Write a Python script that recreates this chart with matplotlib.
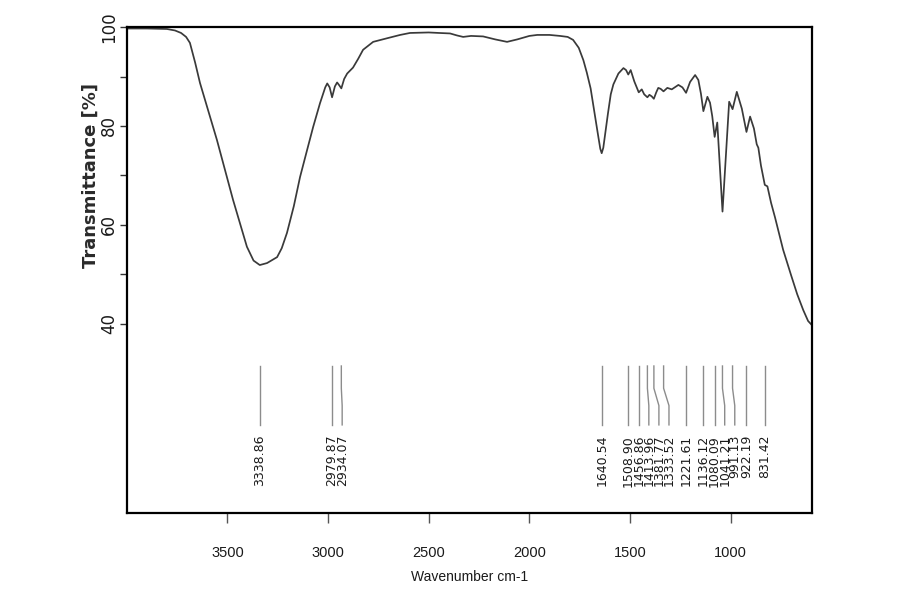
import matplotlib
matplotlib.use("Agg")
import matplotlib.pyplot as plt
from matplotlib.transforms import blended_transform_factory

# ---------------- data ----------------
wavenumber = [4000, 3900, 3800, 3760, 3730, 3705, 3686, 3660, 3636, 3552, 3472, 3403,
              3370, 3339, 3303, 3253, 3230, 3204, 3170, 3139, 3105, 3074, 3040, 3014,
              3004, 2992, 2980, 2966, 2955, 2944, 2934, 2920, 2905, 2876, 2850, 2826,
              2776, 2700, 2642, 2593, 2500, 2450, 2394, 2360, 2329, 2290, 2230, 2170,
              2111, 2060, 2000, 1961, 1900, 1848, 1810, 1783, 1755, 1732, 1715, 1696,
              1678, 1660, 1648, 1641, 1633, 1620, 1610, 1596, 1583, 1558, 1533, 1520,
              1509, 1497, 1479, 1457, 1442, 1430, 1414, 1404, 1393, 1382, 1370, 1360,
              1348, 1334, 1315, 1293, 1260, 1240, 1222, 1202, 1177, 1161, 1148, 1136,
              1116, 1103, 1092, 1080, 1067, 1041, 1008, 991, 970, 945, 922, 904,
              885, 871, 863, 850, 831, 818, 800, 780, 740, 700, 670, 640, 616, 598]
transmittance = [99.7, 99.7, 99.6, 99.3, 98.8, 98.0, 96.8, 92.8, 88.7, 77.2, 65.1, 55.6,
                 52.8, 51.9, 52.3, 53.5, 55.3, 58.4, 63.8, 69.7, 75.0, 79.8, 84.6, 87.8,
                 88.6, 87.8, 85.8, 88.0, 88.8, 88.2, 87.6, 89.5, 90.6, 91.8, 93.6, 95.4,
                 97.0, 97.8, 98.4, 98.8, 98.9, 98.8, 98.7, 98.3, 98.0, 98.2, 98.1, 97.5,
                 97.0, 97.5, 98.2, 98.4, 98.4, 98.2, 98.0, 97.4, 95.8, 93.3, 90.8, 87.6,
                 83.0, 78.4, 75.4, 74.5, 75.6, 79.5, 82.5, 86.4, 88.4, 90.6, 91.7, 91.3,
                 90.4, 91.3, 89.0, 86.8, 87.4, 86.4, 85.8, 86.3, 86.0, 85.5, 86.8, 87.7,
                 87.5, 87.0, 87.7, 87.4, 88.3, 87.8, 86.7, 88.9, 90.3, 89.3, 86.5, 83.0,
                 85.9, 84.7, 82.0, 77.8, 80.7, 62.7, 84.9, 83.4, 86.9, 83.5, 78.8, 81.9,
                 79.5, 76.3, 75.6, 72.0, 68.1, 67.8, 64.5, 61.5, 55.0, 49.8, 46.0, 42.8, 40.6, 39.8]

peaks = [3338.86, 2979.87, 2934.07, 1640.54, 1508.90, 1456.86, 1413.96, 1381.77,
         1333.52, 1221.61, 1136.12, 1080.09, 1041.21, 991.13, 922.19, 831.42]
peak_labels = ["%.2f" % p for p in peaks]

xticks = [3500, 3000, 2500, 2000, 1500, 1000]
yticks = [40, 50, 60, 70, 80, 90, 100]
ytick_labels = ["40", "", "60", "", "80", "", "100"]

# ---------------- figure ----------------
fig = plt.figure(figsize=(9.03, 6.03), dpi=100)
ax = fig.add_axes([0.1403, 0.1493, 0.7586, 0.8059])

ax.plot(wavenumber, transmittance, color="#3a3a3a", lw=1.25)

ax.set_xlim(4000, 598)
ax.set_ylim(1.8, 100)

for s in ax.spines.values():
    s.set_linewidth(1.6)
    s.set_color("black")

sans = ["Liberation Sans", "DejaVu Sans"]

ax.set_xticks(xticks)
ax.set_xticklabels([str(t) for t in xticks], family=sans, fontsize=10.5, color="#1a1a1a")
ax.tick_params(axis="x", direction="out", length=7, width=1, color="#555555", pad=17)

ax.set_yticks(yticks)
ax.set_yticklabels(ytick_labels, rotation=90, va="center", family="DejaVu Sans",
                   fontsize=12, color="#1a1a1a")
ax.tick_params(axis="y", direction="out", length=5, width=1, color="#333333", pad=1)

ax.set_xlabel("Wavenumber cm-1", family=sans, fontsize=10, color="#1a1a1a")
ax.xaxis.set_label_coords(0.5, -0.117)
ax.set_ylabel("Transmittance [%]", family="DejaVu Sans", fontsize=13,
              fontweight="bold", color="#2a2a2a")
ax.yaxis.set_label_coords(-0.040, 70,
                          transform=blended_transform_factory(ax.transAxes, ax.transData))

# ---------------- peak annotations ----------------
gap = 50.0
label_pos = []
for i, p in enumerate(peaks):
    if i == 0:
        label_pos.append(p)
    else:
        label_pos.append(min(p, label_pos[-1] - gap))

y_top, y_bend1, y_bend2, y_bot, y_text = 31.5, 27.0, 23.5, 19.6, 17.6
for p, lp, lab in zip(peaks, label_pos, peak_labels):
    ax.plot([p, p, lp, lp], [y_top, y_bend1, y_bend2, y_bot],
            color="#8c8c8c", lw=1.0)
    ax.text(lp, y_text, lab, rotation=90, ha="center", va="top",
            family="DejaVu Sans", fontsize=9, color="#1a1a1a")

fig.savefig("out.png", dpi=100)
